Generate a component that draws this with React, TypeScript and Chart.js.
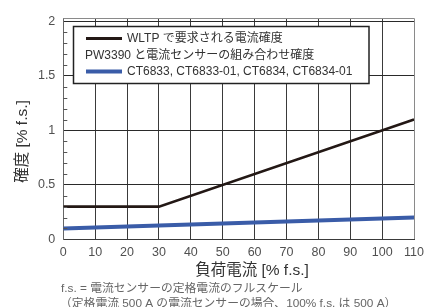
import React, { useEffect, useRef } from "react";
import { Chart, registerables } from "chart.js";

Chart.register(...registerables);

// ---- data ----
const wltpLoad = [0, 30, 110];
const wltpAccuracy = [0.3, 0.3, 1.1];
const ctLoad = [0, 110];
const ctAccuracy = [0.1, 0.2];

const xTickValues = [0, 10, 20, 30, 40, 50, 60, 70, 80, 90, 100, 110];
const yTickValues = [0, 0.5, 1, 1.5, 2];
const yTickLabels = ["0", "0.5", "1", "1.5", "2"];

const seriesNames = ["WLTP で要求される電流確度", "CT6833, CT6833-01, CT6834, CT6834-01"];
const legendHeading = "PW3390 と電流センサーの組み合わせ確度";
const xTitle = "負荷電流 [% f.s.]";
const yTitle = "確度 [% f.s.]";
const footnotes = [
  "f.s. = 電流センサーの定格電流のフルスケール",
  "（定格電流 500 A の電流センサーの場合、100% f.s. は 500 A）",
];

const FONT = "'Liberation Sans', Arial, 'Noto Sans CJK JP', sans-serif";
const BLACK = "#231815";
const BLUE = "#3a5ca8";

const decor = {
  id: "decor",
  afterDraw(chart: any) {
    const { ctx, chartArea: a, scales } = chart;
    const ys = scales.y;
    ctx.save();
    // top frame
    ctx.strokeStyle = "#8a8a8a";
    ctx.lineWidth = 1;
    ctx.beginPath();
    ctx.moveTo(a.left, Math.round(a.top) + 0.5);
    ctx.lineTo(a.right, Math.round(a.top) + 0.5);
    ctx.stroke();
    // minor ticks inside on the y axis
    ctx.strokeStyle = "#555";
    for (let i = 1; i < 20; i++) {
      if (i % 5 === 0) continue;
      const y = Math.round(ys.getPixelForValue(i / 10)) + 0.5;
      ctx.beginPath();
      ctx.moveTo(a.left, y);
      ctx.lineTo(a.left + 4, y);
      ctx.stroke();
    }
    // legend box
    const bx = 73.5, by = 26.5, bw = 295.5, bh = 57;
    ctx.fillStyle = "#fff";
    ctx.fillRect(bx, by, bw, bh);
    ctx.strokeStyle = "#222";
    ctx.lineWidth = 1.5;
    ctx.strokeRect(bx, by, bw, bh);
    // samples
    ctx.lineWidth = 3;
    ctx.strokeStyle = BLACK;
    ctx.beginPath();
    ctx.moveTo(86, 38.5);
    ctx.lineTo(122, 38.5);
    ctx.stroke();
    ctx.lineWidth = 4;
    ctx.strokeStyle = BLUE;
    ctx.beginPath();
    ctx.moveTo(86, 71.5);
    ctx.lineTo(122, 71.5);
    ctx.stroke();
    ctx.fillStyle = "#333";
    ctx.textBaseline = "middle";
    ctx.textAlign = "left";
    ctx.font = `12px ${FONT}`;
    ctx.fillText(seriesNames[0], 127, 38.5);
    ctx.fillText(legendHeading, 85, 55.5);
    ctx.fillText(seriesNames[1], 127, 71.5);
    // axis titles
    ctx.font = `15.5px ${FONT}`;
    ctx.textAlign = "center";
    ctx.fillStyle = "#333";
    ctx.fillText(xTitle, 252, 270.5);
    ctx.save();
    ctx.translate(23, 141.5);
    ctx.rotate(-Math.PI / 2);
    ctx.fillText(yTitle, 0, 0);
    ctx.restore();
    // footnotes
    ctx.font = `11.8px ${FONT}`;
    ctx.textAlign = "left";
    ctx.fillStyle = "#666";
    ctx.fillText(footnotes[0], 61, 288.5);
    ctx.fillText(footnotes[1], 60, 303.5);
    ctx.restore();
  },
};

export default function App() {
  const ref = useRef<HTMLCanvasElement>(null);
  useEffect(() => {
    document.body.style.margin = "0";
    const chart = new Chart(ref.current!, {
      type: "line",
      data: {
        datasets: [
          {
            label: seriesNames[0],
            data: wltpLoad.map((x, i) => ({ x, y: wltpAccuracy[i] })),
            borderColor: BLACK,
            borderWidth: 2.6,
            pointRadius: 0,
            tension: 0,
          },
          {
            label: seriesNames[1],
            data: ctLoad.map((x, i) => ({ x, y: ctAccuracy[i] })),
            borderColor: BLUE,
            borderWidth: 4,
            pointRadius: 0,
            tension: 0,
          },
        ],
      },
      options: {
        responsive: false,
        animation: false,
        layout: { padding: { top: 18.3, right: 8.5, left: 0, bottom: 0 } },
        plugins: { legend: { display: false }, tooltip: { enabled: false } },
        scales: {
          x: {
            type: "linear",
            min: 0,
            max: 110,
            afterBuildTicks: (s: any) => {
              s.ticks = xTickValues.map((v) => ({ value: v }));
            },
            afterFit: (s: any) => {
              s.height = 67.7;
            },
            grid: {
              drawTicks: false,
              color: (c: any) => (c.tick && c.tick.value === 110 ? "#8a8a8a" : "#3a3a3a"),
              lineWidth: 1,
            },
            border: { color: "#3a3a3a", width: 1 },
            ticks: {
              padding: 6,
              color: "#505050",
              font: { family: FONT, size: 12.5 },
              maxRotation: 0,
            },
          },
          y: {
            type: "linear",
            min: 0,
            max: 2.03,
            afterBuildTicks: (s: any) => {
              s.ticks = yTickValues.map((v) => ({ value: v }));
            },
            afterFit: (s: any) => {
              s.width = 63.3;
            },
            grid: { drawTicks: false, color: "#2a2a2a", lineWidth: 1 },
            border: { color: "#666", width: 1 },
            ticks: {
              padding: 8,
              color: "#505050",
              font: { family: FONT, size: 12.5 },
              callback: (_v: any, i: number) => yTickLabels[i],
            },
          },
        },
      },
      plugins: [decor],
    } as any);
    return () => chart.destroy();
  }, []);
  return (
    <div style={{ width: 430, height: 307 }}>
      <canvas ref={ref} width={430} height={307} />
    </div>
  );
}
